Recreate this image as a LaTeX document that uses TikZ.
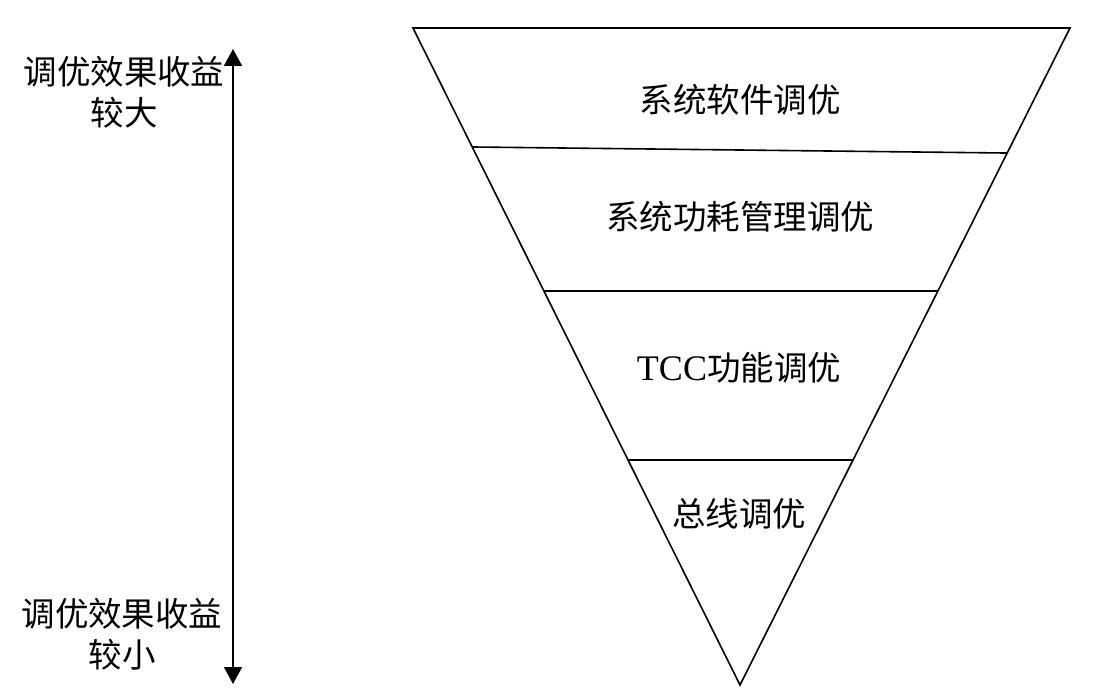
\documentclass[tikz,border=0pt]{standalone}
\usepackage{fontspec}
\setmainfont{Liberation Serif}
\newfontfamily\cjk{Noto Sans CJK SC}
\usetikzlibrary{arrows.meta,calc}
\begin{document}
\begin{tikzpicture}[x=1pt,y=-1pt,
  edge/.style={line width=1.6pt,line join=miter},
  sep/.style={line width=1.6pt},
  lab/.style={font=\fontsize{33.5}{41}\selectfont\cjk,inner sep=0pt,align=center},
  axis/.style={line width=1.8pt,{Triangle[length=17pt,width=18pt]}-{Triangle[length=17pt,width=18pt]}}]
\useasboundingbox (0,0) rectangle (1096,700);
\coordinate (TL) at (413,28);
\coordinate (TR) at (1070,28);
\coordinate (A) at (740,685);
\draw[edge] (TL) -- (TR) -- (A) -- cycle;
\coordinate (L1) at ($(TL)!0.1811!(A)$);
\coordinate (R1) at ($(TR)!0.1903!(A)$);
\coordinate (L2) at ($(TL)!0.4003!(A)$);
\coordinate (R2) at ($(TR)!0.4003!(A)$);
\coordinate (L3) at ($(TL)!0.6575!(A)$);
\coordinate (R3) at ($(TR)!0.6575!(A)$);
\draw[sep] (L1) -- (R1);
\draw[sep] (L2) -- (R2);
\draw[sep] (L3) -- (R3);
\node[lab] (s1) at (740,100) {系统软件调优};
\node[lab] (s2) at (740,217) {系统功耗管理调优};
\node[lab] (s3) at (739,368) {{\rmfamily\fontsize{36}{41}\selectfont TCC}功能调优};
\node[lab] (s4) at (739,514) {总线调优};
\node[lab] (top) at (124,92) {调优效果收益\\较大};
\node[lab] (bot) at (122,634) {调优效果收益\\较小};
\coordinate (ATop) at (233,49);
\coordinate (ABot) at (233,684);
\draw[axis] (ATop) -- (ABot);
\end{tikzpicture}
\end{document}
